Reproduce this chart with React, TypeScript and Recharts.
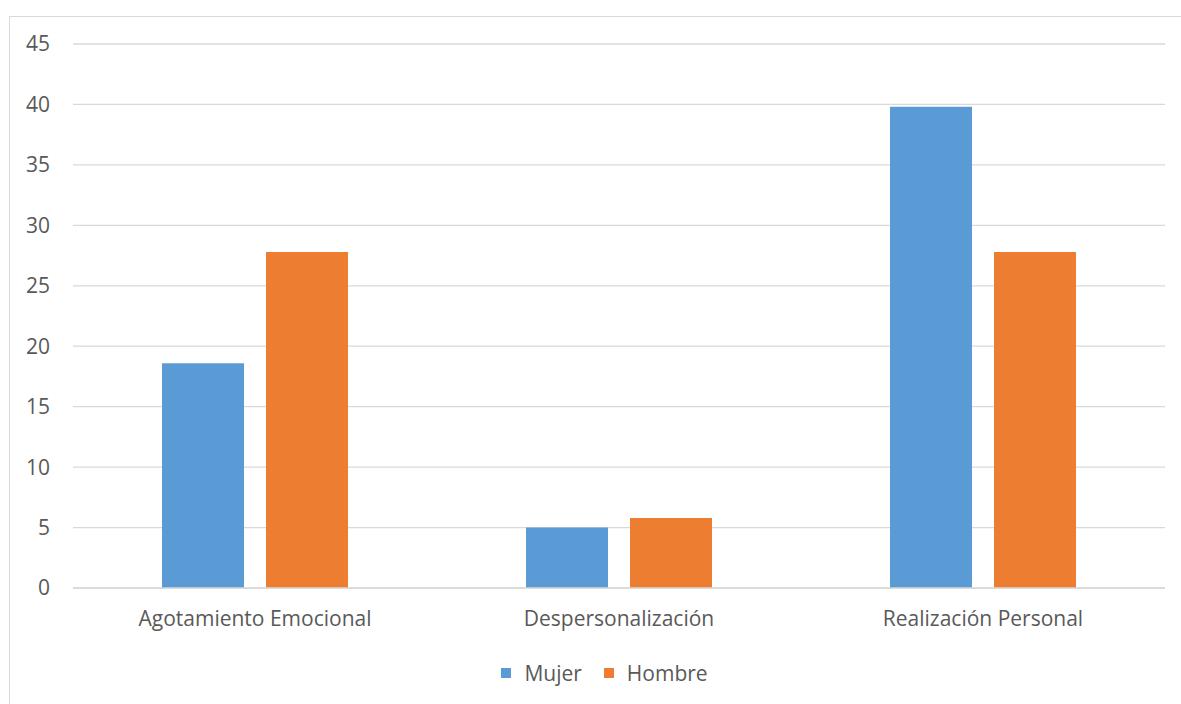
import React from 'react';
import { BarChart, Bar, XAxis, YAxis, CartesianGrid, Legend } from 'recharts';

const categories = ['Agotamiento Emocional', 'Despersonalización', 'Realización Personal'];
const mujer = [18.6, 5.0, 39.8];
const hombre = [27.8, 5.8, 27.8];
const yTicks = [0, 5, 10, 15, 20, 25, 30, 35, 40, 45];

const data = categories.map((name, i) => ({ name, Mujer: mujer[i], Hombre: hombre[i] }));

const FONT = '"Open Sans", sans-serif';
const TEXT = '#595959';
const GRID = '#d9d9d9';
const BLUE = '#5B9BD5';
const ORANGE = '#ED7D31';

const LegendBox = () => (
  <div style={{ display: 'flex', justifyContent: 'center', alignItems: 'center', fontFamily: FONT, fontSize: 21, color: TEXT, paddingLeft: 28 }}>
    {[['Mujer', BLUE], ['Hombre', ORANGE]].map(([label, color]) => (
      <div key={label} style={{ display: 'flex', alignItems: 'center', margin: '0 11px' }}>
        <span style={{ width: 10, height: 10, background: color, display: 'inline-block', marginRight: 13 }} />
        <span>{label}</span>
      </div>
    ))}
  </div>
);

export default function App() {
  return (
    <div>
      <div
        style={{
          position: 'absolute', left: 9, top: 16, width: 1172, height: 688,
          borderLeft: '1px solid #d9d9d9', borderTop: '1px solid #d9d9d9', boxSizing: 'border-box',
        }}
      />
      <div style={{ position: 'absolute', left: 0, top: 0 }}>
        <BarChart
          width={1181}
          height={704}
          data={data}
          margin={{ top: 44, right: 16, left: 33, bottom: 86 }}
          barCategoryGap={89}
          barGap={22}
        >
          <CartesianGrid vertical={false} stroke={GRID} strokeWidth={1.3} />
          <XAxis
            dataKey="name"
            axisLine={{ stroke: GRID, strokeWidth: 1.3 }}
            tickLine={false}
            tickSize={0}
            tickMargin={23}
            tick={{ fill: TEXT, fontSize: 21, fontFamily: FONT }}
          />
          <YAxis
            width={40}
            domain={[0, 45]}
            ticks={yTicks}
            axisLine={false}
            tickLine={false}
            tickSize={0}
            tickMargin={23}
            tick={{ fill: TEXT, fontSize: 21, fontFamily: FONT }}
          />
          <Legend
            layout="horizontal"
            verticalAlign="middle"
            align="center"
            content={<LegendBox />}
            wrapperStyle={{ top: 659, left: 0, width: 1181 }}
          />
          <Bar dataKey="Mujer" fill={BLUE} isAnimationActive={false} />
          <Bar dataKey="Hombre" fill={ORANGE} isAnimationActive={false} />
        </BarChart>
      </div>
    </div>
  );
}
